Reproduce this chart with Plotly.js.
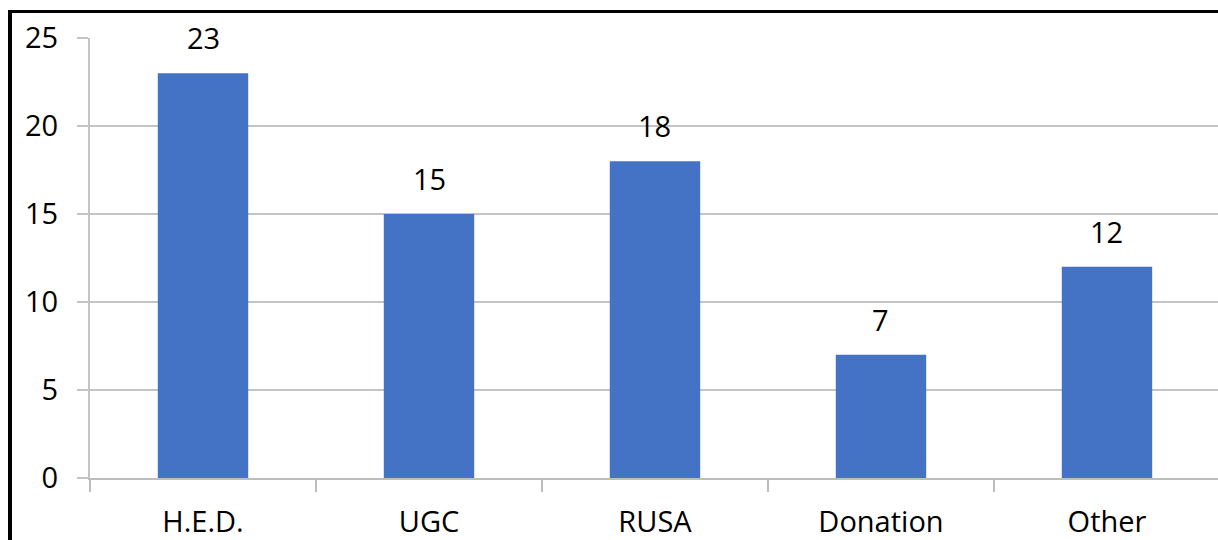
<!DOCTYPE html>
<html>
<head>
<meta charset="utf-8">
<script src="https://cdn.plot.ly/plotly-3.0.1.min.js"></script>
<style>
html,body{margin:0;padding:0;background:#fff;overflow:hidden;}
#chart{position:absolute;left:0;top:0;width:1218px;height:540px;}
#frame{position:absolute;left:8px;top:10px;width:1300px;height:600px;border-left:4px solid #000;border-top:3px solid #000;pointer-events:none;}
</style>
</head>
<body>
<div id="chart"></div>
<div id="frame"></div>
<script>
const categories = ["H.E.D.", "UGC", "RUSA", "Donation", "Other"];
const values = [23, 15, 18, 7, 12];
const yTicks = [0, 5, 10, 15, 20, 25];

const FONT = "Open Sans, Noto Sans, sans-serif";

const trace = {
  type: "bar",
  x: categories,
  y: values,
  marker: {color: "#4472C4"},
  hoverinfo: "x+y"
};

const annotations = categories.map((c, i) => ({
  x: c, y: values[i], xref: "x", yref: "y",
  text: String(values[i]), showarrow: false,
  yanchor: "bottom", yshift: 14,
  font: {family: FONT, size: 29, color: "#000"}
}));

const layout = {
  width: 1218, height: 540,
  margin: {l: 90, r: 0, t: 38, b: 62, pad: 0},
  paper_bgcolor: "#fff", plot_bgcolor: "#fff",
  showlegend: false,
  bargap: 0.6,
  font: {family: FONT, size: 29, color: "#000"},
  xaxis: {
    type: "category",
    range: [-0.5, 4.4912],
    tickson: "boundaries",
    ticks: "outside", ticklen: 12, tickwidth: 2, tickcolor: "#bdbdbd",
    showline: true, linecolor: "#bdbdbd", linewidth: 2,
    showgrid: false, zeroline: false,
    tickfont: {family: FONT, size: 29, color: "#000"},
    ticklabelstandoff: 17
  },
  yaxis: {
    range: [0, 25],
    tickvals: yTicks, ticktext: yTicks.map(String),
    ticks: "outside", ticklen: 11, tickwidth: 2, tickcolor: "#c4c4c4",
    showline: true, linecolor: "#c4c4c4", linewidth: 2,
    showgrid: true, gridcolor: "#c4c4c4", gridwidth: 2,
    zeroline: false,
    tickfont: {family: FONT, size: 29, color: "#000"},
    ticklabelstandoff: 13
  },
  annotations: annotations
};

Plotly.newPlot("chart", [trace], layout, {displayModeBar: false, staticPlot: true});
</script>
</body>
</html>
